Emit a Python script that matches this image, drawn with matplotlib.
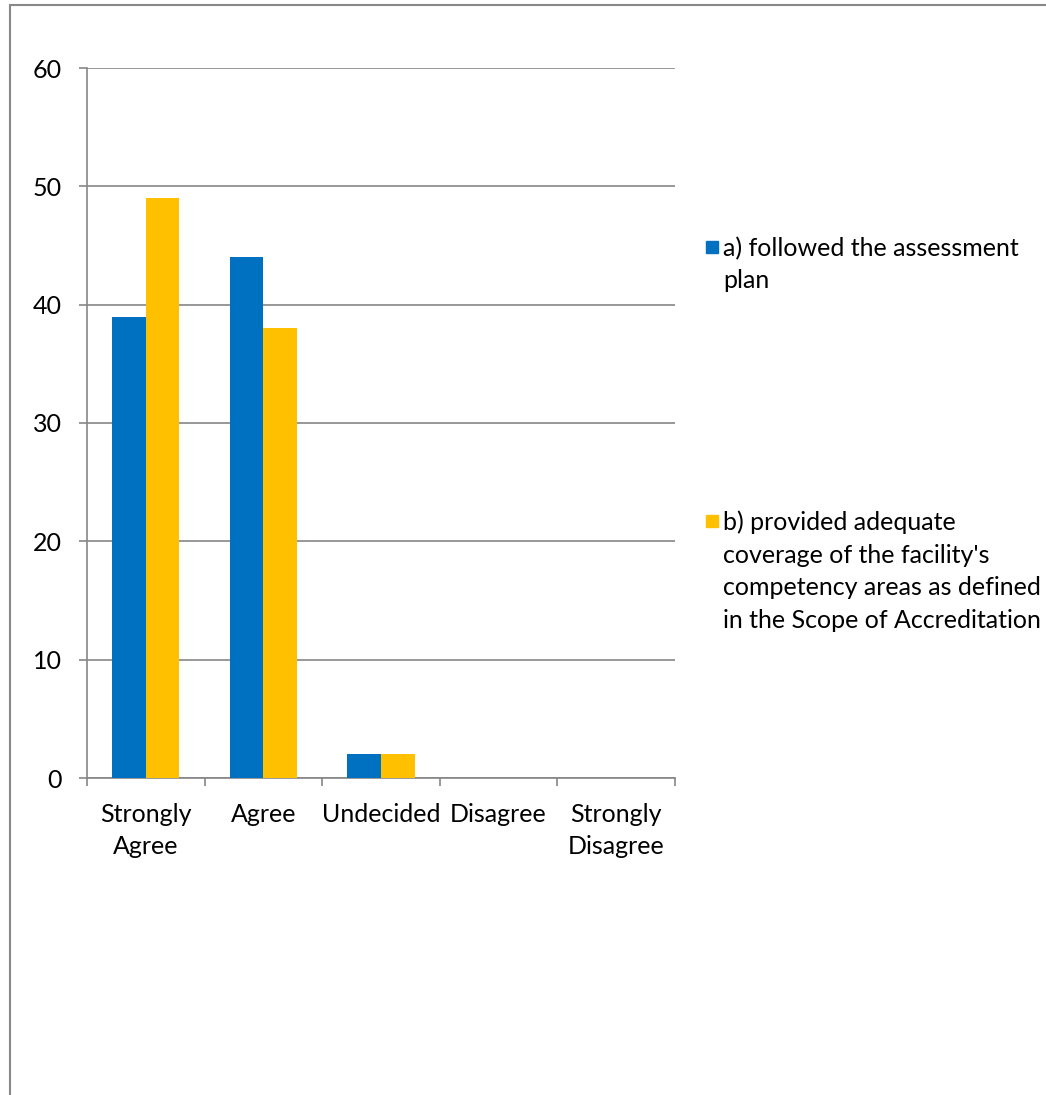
import matplotlib
matplotlib.use("Agg")
import matplotlib.pyplot as plt
from matplotlib.patches import Rectangle
import numpy as np

categories = ["Strongly\nAgree", "Agree", "Undecided", "Disagree", "Strongly\nDisagree"]
series_names = ["a) followed the assessment\nplan",
                "b) provided adequate\ncoverage of the facility's\ncompetency areas as defined\nin the Scope of Accreditation"]
series_a = [39, 44, 2, 0, 0]
series_b = [49, 38, 2, 0, 0]
colors = ["#0070C0", "#FFC000"]
yticks = [0, 10, 20, 30, 40, 50, 60]

plt.rcParams['font.family'] = ['Lato', 'DejaVu Sans']
W, H = 1046, 1095
fig = plt.figure(figsize=(W / 100, H / 100), dpi=100)

# outer frame
fig.patches.append(Rectangle((10 / W, -0.01), 1.02, 1 - 5 / H + 0.01, transform=fig.transFigure,
                             fill=False, edgecolor="#888888", linewidth=1.5))

ax = fig.add_axes([87 / W, 1 - 778 / H, (675 - 87) / W, (778 - 68) / H])
x = np.arange(len(categories))
bw = 0.285
ax.bar(x - bw / 2, series_a, width=bw, color=colors[0], zorder=3)
ax.bar(x + bw / 2, series_b, width=bw, color=colors[1], zorder=3)

ax.set_xlim(-0.5, len(categories) - 0.5)
ax.set_ylim(0, 60)
ax.set_yticks(yticks)
ax.yaxis.grid(True, color="#868686", linewidth=1.2, zorder=0)
ax.set_axisbelow(True)

for s in ["top", "right"]:
    ax.spines[s].set_visible(False)
for s in ["left", "bottom"]:
    ax.spines[s].set_color("#868686")
    ax.spines[s].set_linewidth(1.2)

FS = 18
ax.set_xticks(x)
ax.set_xticklabels(categories, fontsize=FS, linespacing=1.5)
ax.set_xticks(np.arange(-0.5, len(categories), 1.0), minor=True)
ax.tick_params(axis="x", which="major", length=0, pad=18)
ax.tick_params(axis="x", which="minor", length=6, color="#868686", width=1.2)
ax.tick_params(axis="y", length=6, color="#868686", width=1.2, pad=12, labelsize=FS)

# legend
leg_y = [247, 521]
for name, col, yy in zip(series_names, colors, leg_y):
    fig.patches.append(Rectangle((706 / W, 1 - (yy + 6) / H), 12 / W, 12 / H,
                                 transform=fig.transFigure, color=col))
    fig.text(723 / W, 1 - (yy - 10.5) / H, name, fontsize=FS, va="top", ha="left",
             linespacing=1.5)

fig.savefig("out.png", dpi=100)
